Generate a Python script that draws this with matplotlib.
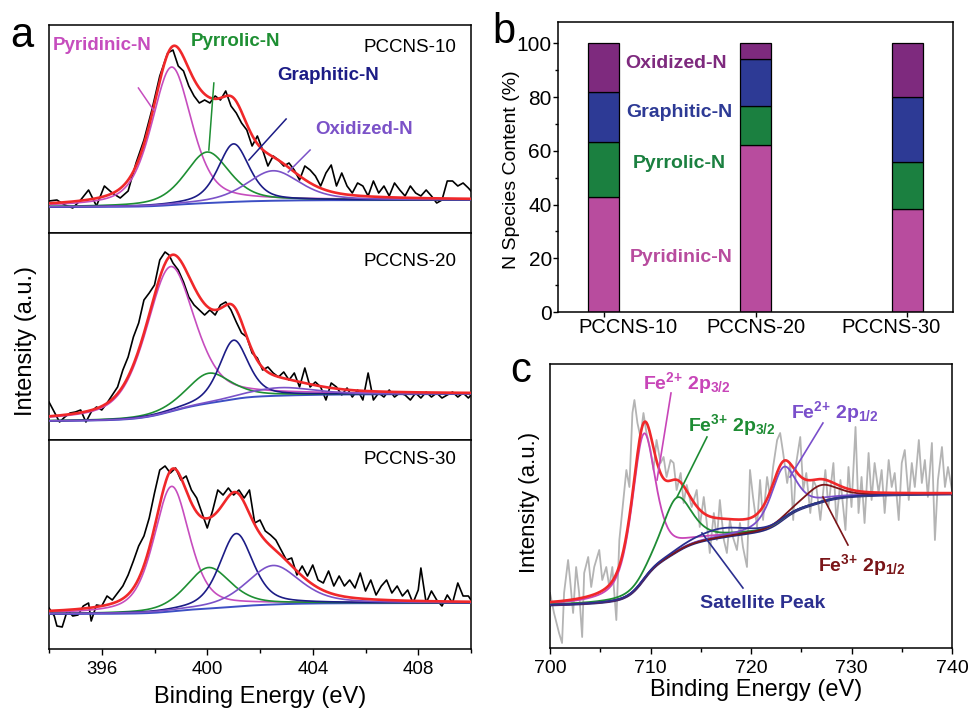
import numpy as np
import matplotlib
matplotlib.use('Agg')
import matplotlib.pyplot as plt
from matplotlib.ticker import MultipleLocator

plt.rcParams['font.family'] = ['Liberation Sans', 'DejaVu Sans']
plt.rcParams['mathtext.fontset'] = 'custom'
plt.rcParams['mathtext.rm'] = 'Liberation Sans:bold'
plt.rcParams['mathtext.it'] = 'Liberation Sans:bold'
plt.rcParams['mathtext.bf'] = 'Liberation Sans:bold'

# ---------------- DATA ----------------
# Panel a: N 1s spectra (binding energy, eV / intensity, a.u.)
x_10 = [394.0, 394.3, 394.6, 394.9, 395.2, 395.5, 395.8, 396.1, 396.4, 396.7, 397.0, 397.3,
        397.6, 397.9, 398.2, 398.5,
        398.7, 398.9, 399.1, 399.3, 399.5, 399.7, 399.9, 400.1, 400.3, 400.5,
        400.7, 400.9, 401.1, 401.3, 401.5, 401.7, 401.9, 402.1, 402.3, 402.5,
        402.7, 402.9, 403.1, 403.3, 403.5, 403.7, 403.9, 404.1, 404.3, 404.5,
        404.7, 404.9, 405.1, 405.3, 405.5, 405.7, 405.9, 406.1, 406.3, 406.5,
        406.7, 406.9, 407.1, 407.3, 407.5, 407.7, 407.9, 408.1, 408.3, 408.5,
        408.7, 408.9, 409.1, 409.3, 409.5, 409.7, 409.9, 410.0]
y_10 = [32, 33, 28, 25, 33, 43, 27, 47, 40, 35, 42, 70, 93, 123, 157, 180,
        183, 167, 162, 147, 137, 130, 133, 130, 137, 133,
        142, 127, 120, 110, 103, 87, 97, 83, 67, 77,
        73, 67, 70, 63, 53, 67, 63, 57, 47, 60,
        68, 47, 60, 47, 40, 50, 47, 37, 52, 40,
        47, 37, 50, 43, 37, 47, 40, 37, 43, 37,
        30, 33, 52, 52, 47, 50, 45, 42]

x_20 = [394.0, 394.2, 394.4, 394.6, 394.8, 395.0, 395.2, 395.4, 395.6, 395.8, 396.0, 396.2,
        396.4, 396.6, 396.8, 397.0, 397.2, 397.4, 397.6, 397.8, 398.0, 398.2, 398.4, 398.55,
        398.7, 398.9, 399.1, 399.3, 399.5, 399.7, 399.9, 400.1, 400.3, 400.5,
        400.7, 400.9, 401.1, 401.3, 401.5, 401.7, 401.9, 402.1, 402.3, 402.5,
        402.7, 402.9, 403.1, 403.3, 403.5, 403.7, 403.9, 404.1, 404.3, 404.5,
        404.7, 404.9, 405.1, 405.3, 405.5, 405.7, 405.9, 406.1, 406.3, 406.5,
        406.7, 406.9, 407.1, 407.3, 407.5, 407.7, 407.9, 408.1, 408.3, 408.5,
        408.7, 408.9, 409.1, 409.3, 409.5, 409.7, 409.9, 410.0]
y_20 = [38, 28, 18, 23, 27, 28, 30, 18, 28, 33, 30, 37,
        45, 53, 70, 83, 103, 117, 140, 147, 155, 180, 188, 185,
        177, 170, 158, 143, 135, 130, 125, 130, 125, 135,
        138, 130, 118, 107, 103, 87, 82, 70, 73, 67,
        63, 68, 60, 67, 53, 72, 53, 58, 53, 40,
        57, 53, 45, 52, 43, 50, 40, 67, 40, 47,
        43, 50, 43, 47, 45, 40, 47, 42, 48, 43,
        47, 42, 45, 48, 43, 47, 42, 45]

x_30 = [394.0, 394.2, 394.3, 394.5, 394.7, 394.9, 395.1, 395.3, 395.5, 395.6,
        395.8, 396.0, 396.2, 396.4, 396.6, 396.8, 397.0, 397.2, 397.4, 397.6, 397.8, 398.0,
        398.2, 398.4, 398.6, 398.8, 399.0, 399.2, 399.4, 399.6, 399.8, 400.0,
        400.2, 400.4, 400.6, 400.8, 401.0, 401.2, 401.4, 401.6, 401.8, 402.0,
        402.2, 402.4, 402.6, 402.8, 403.0, 403.2, 403.4, 403.6, 403.8, 404.0,
        404.2, 404.4, 404.6, 404.8, 405.0, 405.2, 405.4, 405.6, 405.8, 406.0,
        406.2, 406.4, 406.6, 406.8, 407.0, 407.2, 407.4, 407.6, 407.8, 408.0,
        408.1, 408.3, 408.5, 408.7, 408.9, 409.1, 409.3, 409.5, 409.7, 409.9, 410.0]
y_30 = [41, 33, 23, 22, 39, 33, 34, 43, 46, 28,
        44, 43, 53, 49, 56, 63, 74, 88, 103, 113, 131, 156,
        179, 183, 176, 181, 169, 173, 159, 151, 136, 121,
        138, 159, 154, 161, 154, 159, 151, 159, 126, 129,
        118, 114, 109, 99, 89, 91, 74, 83, 73, 84,
        69, 66, 78, 63, 73, 63, 69, 61, 76, 58,
        69, 54, 63, 69, 56, 63, 53, 59, 46, 59,
        81, 46, 58, 49, 43, 54, 46, 66, 53, 53, 49]

n_species = ['Pyridinic-N', 'Pyrrolic-N', 'Graphitic-N', 'Oxidized-N']
# fitted components (centre eV, height, FWHM) for each sample
fit_10 = [(398.65, 138, 1.8), (400.0, 51, 2.0), (401.0, 58, 1.4), (402.5, 30, 2.4)]
fit_20 = [(398.6, 145, 2.2), (400.05, 30, 2.0), (401.0, 59, 1.3), (402.8, 8, 3.0)]
fit_30 = [(398.65, 125, 1.6), (400.05, 41, 2.0), (401.1, 73, 1.5), (402.5, 39, 2.4)]
bg_10 = (26, 33)
bg_20 = (19, 46)
bg_30 = (35, 46)

# Panel b: N species content (%)
samples = ['PCCNS-10', 'PCCNS-20', 'PCCNS-30']
pyridinic = [42.9, 62.1, 38.3]
pyrrolic = [20.5, 14.5, 17.4]
graphitic = [18.6, 17.8, 24.2]
oxidized = [18.0, 5.6, 20.1]

# Panel c: Fe 2p spectrum
x_fe = [700.0, 700.4, 700.9, 701.2, 701.4, 701.8, 702.0, 702.3, 702.6, 702.9, 703.2, 703.4,
        703.8, 704.1, 704.4, 704.9, 705.2, 705.6, 705.9, 706.2, 706.6, 706.9, 707.2, 707.6,
        707.9, 708.2, 708.4, 708.7, 709.0, 709.3, 709.6, 710.0, 710.3, 710.6, 711.0, 711.3,
        711.6, 712.0, 712.3, 712.6, 713.0, 713.3, 713.6, 714.1, 714.6, 714.9, 715.3, 715.6,
        715.9, 716.3, 716.6, 716.9, 717.3, 717.6, 717.9, 718.2, 718.6, 718.9, 719.2, 719.6,
        719.9, 720.2, 720.6, 720.9, 721.2, 721.6, 721.9, 722.2, 722.6, 722.9, 723.2, 723.6,
        723.9, 724.2, 724.5, 724.9, 725.2, 725.5, 725.9, 726.2, 726.5, 726.9, 727.4, 727.7,
        728.2, 728.5, 728.9, 729.4, 729.7, 730.0, 730.4, 730.7, 731.0, 731.3, 731.7, 732.0,
        732.3, 732.7, 733.0, 733.3, 733.7, 734.0, 734.3, 734.7, 735.0, 735.3, 735.7, 736.0,
        736.3, 736.7, 737.0, 737.3, 737.6, 738.0, 738.3, 738.6, 739.0, 739.3, 739.6, 740.0]
y_fe = [55, 35, 15, 5, 55, 88, 68, 35, 81, 55, 11, 75,
        91, 61, 81, 98, 68, 81, 61, 81, 28, 108, 138, 178,
        161, 235, 248, 225, 211, 235, 215, 198, 178, 208, 185, 191,
        171, 188, 185, 158, 175, 145, 163, 141, 158, 121, 151, 125,
        95, 135, 108, 148, 108, 95, 128, 111, 98, 125, 101, 81,
        178, 151, 121, 168, 128, 171, 151, 181, 208, 215, 195, 165,
        185, 128, 185, 211, 158, 175, 135, 168, 161, 128, 178, 141,
        185, 125, 168, 118, 181, 141, 221, 135, 171, 125, 195, 148,
        185, 155, 178, 135, 188, 161, 175, 128, 185, 198, 148, 185,
        161, 208, 165, 188, 151, 205, 108, 168, 201, 161, 181, 158]
fe_labels = [r'Fe$^{2{+}}$ 2p$_{3/2}$', r'Fe$^{3{+}}$ 2p$_{3/2}$', r'Fe$^{2{+}}$ 2p$_{1/2}$',
             r'Fe$^{3{+}}$ 2p$_{1/2}$', 'Satellite Peak']
# (centre eV, height, FWHM, spin-orbit group: 0 = 2p3/2 region, 1 = 2p1/2 region)
fit_fe = [(709.3, 146, 2.8, 0), (712.6, 54, 3.6, 0), (723.2, 52, 3.0, 1), (726.9, 17, 4.0, 1),
          (717.0, 9, 6.0, 0)]
bg_fe = (43, 115, 154)   # background level: low side, between doublets, high side

# ---------------- HELPERS ----------------
W, H = 968, 709
fig = plt.figure(figsize=(W / 100, H / 100), dpi=100)


def rect(l, t, r, b):
    return [l / W, 1 - b / H, (r - l) / W, (b - t) / H]


def gl(x, c, h, w, m=0.5):
    t = (x - c) / w
    return h * (m / (1 + 4 * t * t) + (1 - m) * np.exp(-4 * np.log(2) * t * t))


def shirley(total, lo, hi):
    cum = np.cumsum(total)
    return lo + (hi - lo) * cum / cum[-1]


RED = '#F0282A'
# ---------------- PANEL A ----------------
a_cols = ['#C64DBE', '#1E8F33', '#1C1C86', '#7B52C8']
a_base = '#3D4FC4'
grid = np.linspace(394, 410, 401)
a_sets = [(x_10, y_10, fit_10, bg_10, 208, 'PCCNS-10', (25, 233)),
          (x_20, y_20, fit_20, bg_20, 207, 'PCCNS-20', (233, 440)),
          (x_30, y_30, fit_30, bg_30, 209, 'PCCNS-30', (440, 649))]
a_axes = []
for i, (xs, ys, fit, bg, ytop, name, (t, b)) in enumerate(a_sets):
    ax = fig.add_axes(rect(49, t, 471, b))
    a_axes.append(ax)
    comps = [gl(grid, c, h, w) for (c, h, w) in fit]
    tot = np.sum(comps, axis=0)
    base = shirley(tot, *bg)
    ax.plot(xs, ys, color='black', lw=1.2, zorder=2)
    ax.plot(grid, base, color=a_base, lw=1.4, zorder=3)
    for comp, col in zip(comps, a_cols):
        ax.plot(grid, base + comp, color=col, lw=1.2, zorder=3)
    ax.plot(grid, base + tot, color=RED, lw=1.9, zorder=4)
    ax.set_xlim(394, 410)
    ax.set_ylim(0, ytop)
    ax.set_yticks([])
    for s in ax.spines.values():
        s.set_linewidth(1.1)
    ax.text(407.7, ytop - [22, 28, 19][i], name, ha='center', va='center', fontsize=13.5)
    if i < 2:
        ax.tick_params(axis='x', bottom=False, labelbottom=False)
    else:
        ax.set_xticks([396, 400, 404, 408])
        ax.xaxis.set_minor_locator(MultipleLocator(2))
        ax.tick_params(axis='x', which='major', direction='out', length=4, width=1,
                       labelsize=13.5, pad=5)
        ax.tick_params(axis='x', which='minor', direction='out', length=3, width=1)

ax1 = a_axes[0]
lab_pos = [(396.02, 187), (401.09, 191), (404.59, 158), (405.96, 103)]
pointers = [((397.39, 145), (397.96, 123)), ((400.25, 150), (400.06, 83)),
            ((402.99, 114), (401.58, 73)), ((403.90, 83), (403.07, 61))]
for name, (lx, ly), col, (p0, p1) in zip(n_species, lab_pos, a_cols, pointers):
    ax1.text(lx, ly, name, color=col, fontsize=13.5, fontweight='bold', ha='center', va='center')
    ax1.plot([p0[0], p1[0]], [p0[1], p1[1]], color=col, lw=1.1, zorder=5)

fig.text(26 / W, 1 - 341 / H, 'Intensity (a.u.)', rotation=90, ha='center', va='center', fontsize=17)
fig.text(260 / W, 1 - 697 / H, 'Binding Energy (eV)', ha='center', va='center', fontsize=17)

# ---------------- PANEL B ----------------
axb = fig.add_axes(rect(558, 22, 953, 312))
b_cols = ['#B84C9E', '#1B8040', '#2D3A95', '#7E2A7E']
pos = np.arange(len(samples))
bottom = np.zeros(len(samples))
for vals, col in zip([pyridinic, pyrrolic, graphitic, oxidized], b_cols):
    axb.bar(pos, vals, width=0.2, bottom=bottom, color=col, edgecolor='black', linewidth=0.9, zorder=2)
    bottom += np.array(vals)
axb.set_xlim(-0.3, 2.3)
axb.set_ylim(0, 108)
axb.set_xticks(pos)
axb.set_xticklabels([])
axb.set_yticks(np.arange(0, 101, 20))
axb.yaxis.set_minor_locator(MultipleLocator(10))
axb.tick_params(axis='y', which='major', direction='out', length=3.5, width=1, labelsize=15, pad=1)
axb.tick_params(axis='y', which='minor', direction='out', length=2.5, width=1)
axb.tick_params(axis='x', which='major', direction='out', length=3.5, width=1)
for s in axb.spines.values():
    s.set_linewidth(1.1)
for xx, name in zip([0.16, 1.0, 1.89], samples):
    axb.text(xx, -0.055, name, transform=axb.get_xaxis_transform(), ha='center', va='center', fontsize=14.5)
b_lab = [(0.51, 20.4), (0.5, 55.4), (0.5, 74.3), (0.48, 92.6)]
for name, (lx, ly), col in zip(n_species, b_lab, b_cols):
    axb.text(lx, ly, name, color=col, fontsize=14, fontweight='bold', ha='center', va='center')
fig.text(511 / W, 1 - 170 / H, 'N Species Content (%)', rotation=90, ha='center', va='center', fontsize=14)

# ---------------- PANEL C ----------------
axc = fig.add_axes(rect(550, 364, 952, 648))
c_cols = ['#C845B8', '#1E8C34', '#7A4FCB', '#7A1518', '#2B2F8F']
gfe = np.linspace(700, 740, 401)
ccomps = [gl(gfe, c, h, w, 0.6) for (c, h, w, g) in fit_fe]
ctot = np.sum(ccomps, axis=0)
grp0 = np.sum([cc for cc, f in zip(ccomps, fit_fe) if f[3] == 0], axis=0)
grp1 = np.sum([cc for cc, f in zip(ccomps, fit_fe) if f[3] == 1], axis=0)
cbase = (bg_fe[0] + (bg_fe[1] - bg_fe[0]) * np.cumsum(grp0) / np.sum(grp0)
         + (bg_fe[2] - bg_fe[1]) * np.cumsum(grp1) / np.sum(grp1))
axc.plot(x_fe, y_fe, color='#B4B4B4', lw=1.3, zorder=1)
axc.plot(gfe, cbase, color='#26287A', lw=2.0, zorder=2)
for comp, col in zip(ccomps, c_cols):
    axc.plot(gfe, cbase + comp, color=col, lw=1.3, zorder=3)
axc.plot(gfe, cbase + ctot, color=RED, lw=1.9, zorder=4)
axc.set_xlim(700, 740)
axc.set_ylim(0, 284)
axc.set_yticks([])
axc.set_xticks(np.arange(700, 741, 10))
axc.xaxis.set_minor_locator(MultipleLocator(5))
axc.tick_params(axis='x', which='major', direction='out', length=4.5, width=1, labelsize=14, pad=4)
axc.tick_params(axis='x', which='minor', direction='out', length=3, width=1)
for s in axc.spines.values():
    s.set_linewidth(1.1)
c_lab = [(713.6, 265), (718.1, 223), (728.36, 236), (731.04, 83), (721.19, 44)]
c_ptr = [((712.04, 255), (710.65, 168)), ((715.62, 211), (712.64, 151)),
         ((727.16, 225), (723.88, 171)), ((729.65, 103), (727.16, 151)),
         ((719.2, 60), (715.12, 115))]
for name, (lx, ly), col, (p0, p1) in zip(fe_labels, c_lab, c_cols, c_ptr):
    axc.text(lx, ly, name, color=col, fontsize=14, fontweight='bold', ha='center', va='center')
    axc.plot([p0[0], p1[0]], [p0[1], p1[1]], color=col, lw=1.2, zorder=5)
fig.text(529 / W, 1 - 502 / H, 'Intensity (a.u.)', rotation=90, ha='center', va='center', fontsize=16)
fig.text(756 / W, 1 - 690 / H, 'Binding Energy (eV)', ha='center', va='center', fontsize=17)

# panel letters
fig.text(10 / W, 1 - 47 / H, 'a', fontsize=30, ha='left', va='baseline')
fig.text(492 / W, 1 - 43 / H, 'b', fontsize=30, ha='left', va='baseline')
fig.text(510 / W, 1 - 382 / H, 'c', fontsize=30, ha='left', va='baseline')

fig.savefig('out.png', dpi=100)
